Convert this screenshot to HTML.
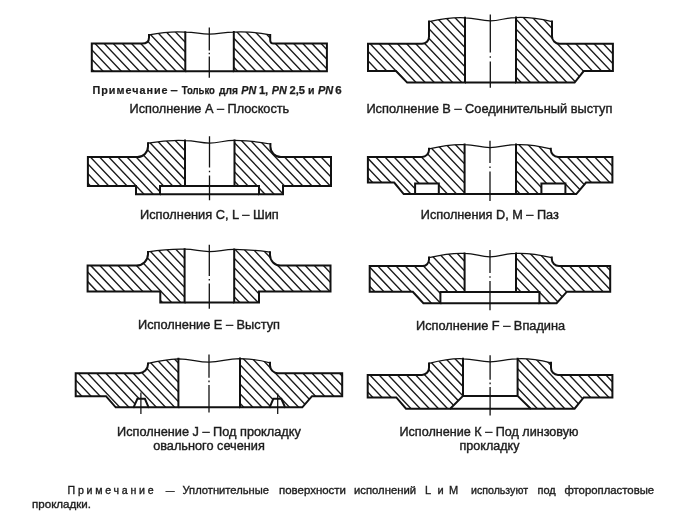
<!DOCTYPE html>
<html><head><meta charset="utf-8"><title>Flange facings</title>
<style>
html,body{margin:0;padding:0;background:#fff;}
body{width:700px;height:517px;overflow:hidden;font-family:"Liberation Sans",sans-serif;}
svg{filter:blur(0.6px);}
</style></head><body>
<svg width="700" height="517" viewBox="0 0 700 517" style="display:block" font-family="'Liberation Sans', sans-serif" fill="#222">
<defs><clipPath id="c1"><path d="M149,34.9Q170,30.9 185.3,32.2V71.3H91.8V43.6H142Q149,43.6 149,37.5V34.9Z"/></clipPath><clipPath id="c2"><path d="M233.8,32.1Q253,31.3 270.2,34.9V40Q270.2,43.6 273.7,43.6H326.9V71.3H233.8V32.1Z"/></clipPath><clipPath id="c3"><path d="M429,21.6Q450,17 465,17.8V82.6H407.2L396,71.1H368V43.8H422A7,7 0 0 0 429,36.6V21.6Z"/></clipPath><clipPath id="c4"><path d="M516,17.6Q531,16.8 552,21.6V36.1A7.5,7.5 0 0 0 559.5,43.8H612.9V71.1H583.7L574.6,82.6H516V17.6Z"/></clipPath><clipPath id="c5"><path d="M148,143.2Q168,139.8 185,140.6V186.0H160V194.3H136V186H87.9V157.1H137.5A10.5,10.5 0 0 0 148,146.6V143.2Z"/></clipPath><clipPath id="c6"><path d="M234.5,140.4Q254,140.6 270.4,144V146.6A10.5,10.5 0 0 0 280.9,157.1H331V186H283V194.3H259V186.0H234.5V140.4Z"/></clipPath><clipPath id="c7"><path d="M429,148.8Q450,143.9 464.6,144.6V194.1H438.8V183.5H415.1V194.1H403.7L394.2,182.5H367.9V156.9H422A7,7 0 0 0 429,149.9V148.8Z"/></clipPath><clipPath id="c8"><path d="M516,144.6Q531,143.9 550.8,148.8V149.5A7.4,7.4 0 0 0 558.2,156.9H612.4V182.5H586L576.3,194.1H565.4V183.5H541.4V194.1H516V144.6Z"/></clipPath><clipPath id="c9"><path d="M148,251.9Q168,248.8 184.6,249.2V302.5H160.3V291.5H87.6V265.6H136.5A11.5,11.5 0 0 0 148,254.1V251.9Z"/></clipPath><clipPath id="c10"><path d="M234.2,249.4Q252,249.6 270,252.2V255.1A10.5,10.5 0 0 0 280.5,265.6H330.5V291.5H259V302.5H234.2V249.4Z"/></clipPath><clipPath id="c11"><path d="M429,257.6Q450,252.7 464.6,253.4V292.0H440.4V303.2H423.4L412.8,291.7H369.7V266.1H422.5A6.5,6.5 0 0 0 429,259.6V257.6Z"/></clipPath><clipPath id="c12"><path d="M516,253.4Q531,252.7 551.8,257.6V258.9A7.2,7.2 0 0 0 559,266.1H610.2V291.7H566.9L556.6,303.2H539.4V292.0H516V253.4Z"/></clipPath><clipPath id="c13"><path d="M148,363.4Q165,359.4 178.4,358.8V407.3H148.6L144.9,398.8H137.4L133.6,407.3H115.7L106,396.2H75.7V373.2H139A9,9 0 0 0 148,364.2V363.4Z"/></clipPath><clipPath id="c14"><path d="M240,358.6Q256,359 270,362.8V365.2A8,8 0 0 0 278,373.2H342.2V396.2H312L302.3,407.3H285.1L281.3,398.8H273.3L269.7,407.3H240V358.6Z"/></clipPath><clipPath id="c15"><path d="M429,363.4Q450,358.1 463,358.8V395.9L450.2,408.7H406L396.3,397.4H367.7V374.9H422A7,7 0 0 0 429,367.7V363.4Z"/></clipPath><clipPath id="c16"><path d="M517.6,358.8Q531,358.1 551,362.8V367.7A7,7 0 0 0 558,374.9H612.4V397.4H583.7L574.6,408.7H530.7L517.6,395.9V358.8Z"/></clipPath></defs>
<g id="art">
<path d="M43.70,28.00L88.63,75.30M52.84,28.00L97.77,75.30M61.98,28.00L106.91,75.30M71.12,28.00L116.05,75.30M80.26,28.00L125.19,75.30M89.40,28.00L134.33,75.30M98.54,28.00L143.47,75.30M107.68,28.00L152.62,75.30M116.82,28.00L161.75,75.30M125.96,28.00L170.89,75.30M135.10,28.00L180.03,75.30M144.24,28.00L189.18,75.30M153.38,28.00L198.31,75.30M162.52,28.00L207.46,75.30M171.66,28.00L216.59,75.30M180.80,28.00L225.73,75.30M189.94,28.00L234.88,75.30" clip-path="url(#c1)" stroke="#1c1c1c" stroke-width="1.4" fill="none"/>
<path d="M185.3,32.2V71.3H91.8V43.6H142Q149,43.6 149,37.5V34.9" stroke="#111" stroke-width="2.0" fill="none" stroke-linejoin="miter" stroke-linecap="square"/>
<path d="M187.52,28.00L232.46,75.30M196.66,28.00L241.59,75.30M205.80,28.00L250.73,75.30M214.94,28.00L259.88,75.30M224.08,28.00L269.01,75.30M233.22,28.00L278.15,75.30M242.36,28.00L287.29,75.30M251.50,28.00L296.44,75.30M260.64,28.00L305.58,75.30M269.78,28.00L314.72,75.30M278.92,28.00L323.86,75.30M288.06,28.00L333.00,75.30M297.20,28.00L342.13,75.30M306.34,28.00L351.27,75.30M315.48,28.00L360.41,75.30M324.62,28.00L369.55,75.30M333.76,28.00L378.70,75.30" clip-path="url(#c2)" stroke="#1c1c1c" stroke-width="1.4" fill="none"/>
<path d="M270.2,34.9V40Q270.2,43.6 273.7,43.6H326.9V71.3H233.8V32.1" stroke="#111" stroke-width="2.0" fill="none" stroke-linejoin="miter" stroke-linecap="square"/>
<path d="M185.3,71.3H233.8" stroke="#111" stroke-width="2.0" fill="none" />
<path d="M149,34.9Q170,30.9 185.3,32.2C196.0,32.2 199.6,34.0 209.3,34.0S223.1,32.1 233.8,32.1Q253,31.3 270.2,34.9" stroke="#111" stroke-width="1.25" fill="none" />
<path d="M209.3,27.5V50.5M209.3,52.7V54.3M209.3,56.5V77.8" stroke="#111" stroke-width="1.3" fill="none"/>
<path d="M295.18,13.00L365.10,86.60M304.32,13.00L374.24,86.60M313.46,13.00L383.38,86.60M322.60,13.00L392.52,86.60M331.74,13.00L401.66,86.60M340.88,13.00L410.80,86.60M350.02,13.00L419.94,86.60M359.16,13.00L429.08,86.60M368.30,13.00L438.22,86.60M377.44,13.00L447.36,86.60M386.58,13.00L456.50,86.60M395.72,13.00L465.64,86.60M404.86,13.00L474.78,86.60M414.00,13.00L483.92,86.60M423.14,13.00L493.06,86.60M432.28,13.00L502.20,86.60M441.42,13.00L511.34,86.60M450.56,13.00L520.48,86.60M459.70,13.00L529.62,86.60M468.84,13.00L538.76,86.60" clip-path="url(#c3)" stroke="#1c1c1c" stroke-width="1.4" fill="none"/>
<path d="M465,17.8V82.6H407.2L396,71.1H368V43.8H422A7,7 0 0 0 429,36.6V21.6" stroke="#111" stroke-width="2.0" fill="none" stroke-linejoin="miter" stroke-linecap="square"/>
<path d="M446.01,13.00L515.93,86.60M455.15,13.00L525.07,86.60M464.29,13.00L534.21,86.60M473.43,13.00L543.35,86.60M482.57,13.00L552.49,86.60M491.71,13.00L561.63,86.60M500.85,13.00L570.77,86.60M509.99,13.00L579.91,86.60M519.13,13.00L589.05,86.60M528.27,13.00L598.19,86.60M537.41,13.00L607.33,86.60M546.55,13.00L616.47,86.60M555.69,13.00L625.61,86.60M564.83,13.00L634.75,86.60M573.97,13.00L643.89,86.60M583.11,13.00L653.03,86.60M592.25,13.00L662.17,86.60M601.39,13.00L671.31,86.60M610.53,13.00L680.45,86.60M619.67,13.00L689.59,86.60" clip-path="url(#c4)" stroke="#1c1c1c" stroke-width="1.4" fill="none"/>
<path d="M552,21.6V36.1A7.5,7.5 0 0 0 559.5,43.8H612.9V71.1H583.7L574.6,82.6H516V17.6" stroke="#111" stroke-width="2.0" fill="none" stroke-linejoin="miter" stroke-linecap="square"/>
<path d="M465,82.6H516" stroke="#111" stroke-width="2.0" fill="none" />
<path d="M429,21.6Q450,17 465,17.8C476.2,17.8 480.1,20.8 490.3,20.8S504.8,17.6 516,17.6Q531,16.8 552,21.6" stroke="#111" stroke-width="1.25" fill="none" />
<path d="M490.3,14.6V52.5M490.3,56.2V57.8M490.3,61.5V87.8" stroke="#111" stroke-width="1.3" fill="none"/>
<path d="M23.80,135.00L83.93,198.30M32.94,135.00L93.07,198.30M42.08,135.00L102.21,198.30M51.22,135.00L111.35,198.30M60.36,135.00L120.49,198.30M69.50,135.00L129.63,198.30M78.64,135.00L138.77,198.30M87.78,135.00L147.91,198.30M96.92,135.00L157.06,198.30M106.06,135.00L166.19,198.30M115.20,135.00L175.33,198.30M124.34,135.00L184.47,198.30M133.48,135.00L193.62,198.30M142.62,135.00L202.75,198.30M151.76,135.00L211.89,198.30M160.90,135.00L221.03,198.30M170.04,135.00L230.18,198.30M179.18,135.00L239.31,198.30M188.32,135.00L248.45,198.30" clip-path="url(#c5)" stroke="#1c1c1c" stroke-width="1.4" fill="none"/>
<path d="M185,140.6V186.0H160V194.3H136V186H87.9V157.1H137.5A10.5,10.5 0 0 0 148,146.6V143.2" stroke="#111" stroke-width="2.0" fill="none" stroke-linejoin="miter" stroke-linecap="square"/>
<path d="M172.20,135.00L232.33,198.30M181.34,135.00L241.47,198.30M190.48,135.00L250.61,198.30M199.62,135.00L259.75,198.30M208.76,135.00L268.89,198.30M217.90,135.00L278.03,198.30M227.04,135.00L287.17,198.30M236.18,135.00L296.31,198.30M245.32,135.00L305.45,198.30M254.46,135.00L314.59,198.30M263.60,135.00L323.74,198.30M272.74,135.00L332.88,198.30M281.88,135.00L342.01,198.30M291.02,135.00L351.15,198.30M300.16,135.00L360.29,198.30M309.30,135.00L369.44,198.30M318.44,135.00L378.57,198.30M327.58,135.00L387.71,198.30M336.72,135.00L396.86,198.30" clip-path="url(#c6)" stroke="#1c1c1c" stroke-width="1.4" fill="none"/>
<path d="M270.4,144V146.6A10.5,10.5 0 0 0 280.9,157.1H331V186H283V194.3H259V186.0H234.5V140.4" stroke="#111" stroke-width="2.0" fill="none" stroke-linejoin="miter" stroke-linecap="square"/>
<path d="M185,186.0H234.5M160,194.3H259" stroke="#111" stroke-width="2.0" fill="none" />
<path d="M148,143.2Q168,139.8 185,140.6C195.9,140.6 199.6,143 209.5,143S223.6,140.4 234.5,140.4Q254,140.6 270.4,144" stroke="#111" stroke-width="1.25" fill="none" />
<path d="M209.5,136.2V167.5M209.5,170.7V172.3M209.5,175.5V200.2" stroke="#111" stroke-width="1.3" fill="none"/>
<path d="M304.78,140.00L359.98,198.10M313.92,140.00L369.12,198.10M323.06,140.00L378.25,198.10M332.20,140.00L387.39,198.10M341.34,140.00L396.53,198.10M350.48,140.00L405.68,198.10M359.62,140.00L414.81,198.10M368.76,140.00L423.95,198.10M377.90,140.00L433.10,198.10M387.04,140.00L442.24,198.10M396.18,140.00L451.38,198.10M405.32,140.00L460.51,198.10M414.46,140.00L469.66,198.10M423.60,140.00L478.80,198.10M432.74,140.00L487.94,198.10M441.88,140.00L497.07,198.10M451.02,140.00L506.21,198.10M460.16,140.00L515.36,198.10M469.30,140.00L524.50,198.10" clip-path="url(#c7)" stroke="#1c1c1c" stroke-width="1.4" fill="none"/>
<path d="M464.6,144.6V194.1H438.8V183.5H415.1V194.1H403.7L394.2,182.5H367.9V156.9H422A7,7 0 0 0 429,149.9V148.8" stroke="#111" stroke-width="2.0" fill="none" stroke-linejoin="miter" stroke-linecap="square"/>
<path d="M459.66,140.00L514.86,198.10M468.80,140.00L523.99,198.10M477.94,140.00L533.13,198.10M487.08,140.00L542.27,198.10M496.22,140.00L551.41,198.10M505.36,140.00L560.56,198.10M514.50,140.00L569.69,198.10M523.64,140.00L578.84,198.10M532.78,140.00L587.97,198.10M541.92,140.00L597.12,198.10M551.06,140.00L606.25,198.10M560.20,140.00L615.39,198.10M569.34,140.00L624.53,198.10M578.48,140.00L633.67,198.10M587.62,140.00L642.82,198.10M596.76,140.00L651.95,198.10M605.90,140.00L661.10,198.10M615.04,140.00L670.23,198.10" clip-path="url(#c8)" stroke="#1c1c1c" stroke-width="1.4" fill="none"/>
<path d="M550.8,148.8V149.5A7.4,7.4 0 0 0 558.2,156.9H612.4V182.5H586L576.3,194.1H565.4V183.5H541.4V194.1H516V144.6" stroke="#111" stroke-width="2.0" fill="none" stroke-linejoin="miter" stroke-linecap="square"/>
<path d="M415.1,194.1H438.8M541.4,194.1H565.4M464.6,194.1H516" stroke="#111" stroke-width="2.0" fill="none" />
<path d="M429,148.8Q450,143.9 464.6,144.6C475.9,144.6 479.7,147.6 490,147.6S504.7,144.6 516,144.6Q531,143.9 550.8,148.8" stroke="#111" stroke-width="1.25" fill="none" />
<path d="M490,140.7V163M490,166.45V168.05M490,171.5V201" stroke="#111" stroke-width="1.3" fill="none"/>
<path d="M24.56,244.00L83.94,306.50M33.70,244.00L93.07,306.50M42.84,244.00L102.22,306.50M51.98,244.00L111.36,306.50M61.12,244.00L120.50,306.50M70.26,244.00L129.63,306.50M79.40,244.00L138.78,306.50M88.54,244.00L147.92,306.50M97.68,244.00L157.06,306.50M106.82,244.00L166.19,306.50M115.96,244.00L175.34,306.50M125.10,244.00L184.48,306.50M134.24,244.00L193.62,306.50M143.38,244.00L202.75,306.50M152.52,244.00L211.90,306.50M161.66,244.00L221.04,306.50M170.80,244.00L230.18,306.50M179.94,244.00L239.31,306.50M189.08,244.00L248.46,306.50" clip-path="url(#c9)" stroke="#1c1c1c" stroke-width="1.4" fill="none"/>
<path d="M184.6,249.2V302.5H160.3V291.5H87.6V265.6H136.5A11.5,11.5 0 0 0 148,254.1V251.9" stroke="#111" stroke-width="2.0" fill="none" stroke-linejoin="miter" stroke-linecap="square"/>
<path d="M175.08,244.00L234.46,306.50M184.22,244.00L243.59,306.50M193.36,244.00L252.74,306.50M202.50,244.00L261.88,306.50M211.64,244.00L271.01,306.50M220.78,244.00L280.16,306.50M229.92,244.00L289.30,306.50M239.06,244.00L298.44,306.50M248.20,244.00L307.57,306.50M257.34,244.00L316.72,306.50M266.48,244.00L325.86,306.50M275.62,244.00L335.00,306.50M284.76,244.00L344.13,306.50M293.90,244.00L353.28,306.50M303.04,244.00L362.42,306.50M312.18,244.00L371.56,306.50M321.32,244.00L380.70,306.50M330.46,244.00L389.84,306.50" clip-path="url(#c10)" stroke="#1c1c1c" stroke-width="1.4" fill="none"/>
<path d="M270,252.2V255.1A10.5,10.5 0 0 0 280.5,265.6H330.5V291.5H259V302.5H234.2V249.4" stroke="#111" stroke-width="2.0" fill="none" stroke-linejoin="miter" stroke-linecap="square"/>
<path d="M184.6,302.5H234.2" stroke="#111" stroke-width="2.0" fill="none" />
<path d="M148,251.9Q168,248.8 184.6,249.2C195.5,249.4 199.4,251.6 209.3,251.6S223.3,249.4 234.2,249.4Q252,249.6 270,252.2" stroke="#111" stroke-width="1.25" fill="none" />
<path d="M209.3,244.7V276M209.3,278.95V280.55M209.3,283.5V308.7" stroke="#111" stroke-width="1.3" fill="none"/>
<path d="M306.78,249.00L362.07,307.20M315.92,249.00L371.21,307.20M325.06,249.00L380.35,307.20M334.20,249.00L389.49,307.20M343.34,249.00L398.63,307.20M352.48,249.00L407.77,307.20M361.62,249.00L416.91,307.20M370.76,249.00L426.05,307.20M379.90,249.00L435.19,307.20M389.04,249.00L444.33,307.20M398.18,249.00L453.47,307.20M407.32,249.00L462.61,307.20M416.46,249.00L471.75,307.20M425.60,249.00L480.89,307.20M434.74,249.00L490.03,307.20M443.88,249.00L499.17,307.20M453.02,249.00L508.31,307.20M462.16,249.00L517.45,307.20M471.30,249.00L526.59,307.20" clip-path="url(#c11)" stroke="#1c1c1c" stroke-width="1.4" fill="none"/>
<path d="M464.6,253.4V292.0H440.4V303.2H423.4L412.8,291.7H369.7V266.1H422.5A6.5,6.5 0 0 0 429,259.6V257.6" stroke="#111" stroke-width="2.0" fill="none" stroke-linejoin="miter" stroke-linecap="square"/>
<path d="M452.77,249.00L508.06,307.20M461.91,249.00L517.20,307.20M471.05,249.00L526.34,307.20M480.19,249.00L535.48,307.20M489.33,249.00L544.62,307.20M498.47,249.00L553.76,307.20M507.61,249.00L562.90,307.20M516.75,249.00L572.04,307.20M525.89,249.00L581.18,307.20M535.03,249.00L590.32,307.20M544.17,249.00L599.46,307.20M553.31,249.00L608.60,307.20M562.45,249.00L617.74,307.20M571.59,249.00L626.88,307.20M580.73,249.00L636.02,307.20M589.87,249.00L645.16,307.20M599.01,249.00L654.30,307.20M608.15,249.00L663.44,307.20M617.29,249.00L672.58,307.20" clip-path="url(#c12)" stroke="#1c1c1c" stroke-width="1.4" fill="none"/>
<path d="M551.8,257.6V258.9A7.2,7.2 0 0 0 559,266.1H610.2V291.7H566.9L556.6,303.2H539.4V292.0H516V253.4" stroke="#111" stroke-width="2.0" fill="none" stroke-linejoin="miter" stroke-linecap="square"/>
<path d="M464.6,292.0H516M440.4,303.2H539.4" stroke="#111" stroke-width="2.0" fill="none" />
<path d="M429,257.6Q450,252.7 464.6,253.4C475.9,253.4 479.7,256.8 490,256.8S504.7,253.4 516,253.4Q531,252.7 551.8,257.6" stroke="#111" stroke-width="1.25" fill="none" />
<path d="M490,249.9V273M490,276.2V277.8M490,281V310.2" stroke="#111" stroke-width="1.3" fill="none"/>
<path d="M14.38,354.00L68.81,411.30M23.52,354.00L77.95,411.30M32.66,354.00L87.10,411.30M41.80,354.00L96.24,411.30M50.94,354.00L105.38,411.30M60.08,354.00L114.51,411.30M69.22,354.00L123.65,411.30M78.36,354.00L132.80,411.30M87.50,354.00L141.94,411.30M96.64,354.00L151.07,411.30M105.78,354.00L160.22,411.30M114.92,354.00L169.36,411.30M124.06,354.00L178.50,411.30M133.20,354.00L187.63,411.30M142.34,354.00L196.78,411.30M151.48,354.00L205.92,411.30M160.62,354.00L215.06,411.30M169.76,354.00L224.19,411.30M178.90,354.00L233.34,411.30" clip-path="url(#c13)" stroke="#1c1c1c" stroke-width="1.4" fill="none"/>
<path d="M178.4,358.8V407.3H148.6L144.9,398.8H137.4L133.6,407.3H115.7L106,396.2H75.7V373.2H139A9,9 0 0 0 148,364.2V363.4" stroke="#111" stroke-width="2.0" fill="none" stroke-linejoin="miter" stroke-linecap="square"/>
<path d="M184.06,354.00L238.50,411.30M193.20,354.00L247.63,411.30M202.34,354.00L256.77,411.30M211.48,354.00L265.92,411.30M220.62,354.00L275.06,411.30M229.76,354.00L284.19,411.30M238.90,354.00L293.34,411.30M248.04,354.00L302.48,411.30M257.18,354.00L311.62,411.30M266.32,354.00L320.75,411.30M275.46,354.00L329.89,411.30M284.60,354.00L339.04,411.30M293.74,354.00L348.18,411.30M302.88,354.00L357.31,411.30M312.02,354.00L366.46,411.30M321.16,354.00L375.60,411.30M330.30,354.00L384.74,411.30M339.44,354.00L393.88,411.30M348.58,354.00L403.01,411.30" clip-path="url(#c14)" stroke="#1c1c1c" stroke-width="1.4" fill="none"/>
<path d="M270,362.8V365.2A8,8 0 0 0 278,373.2H342.2V396.2H312L302.3,407.3H285.1L281.3,398.8H273.3L269.7,407.3H240V358.6" stroke="#111" stroke-width="2.0" fill="none" stroke-linejoin="miter" stroke-linecap="square"/>
<path d="M133.6,407.3H148.6M269.7,407.3H285.1M178.4,407.3H240" stroke="#111" stroke-width="2.0" fill="none" />
<path d="M148,363.4Q165,359.4 178.4,358.8C192.0,358.8 196.7,362.1 209,362.1S226.4,358.6 240,358.6Q256,359 270,362.8" stroke="#111" stroke-width="1.25" fill="none" />
<path d="M209,354.4V377.7M209,380.55V382.15000000000003M209,385V412.5" stroke="#111" stroke-width="1.3" fill="none"/>
<path d="M140.9,392.5V414M277.7,393.5V414" stroke="#111" stroke-width="1.25" fill="none" />
<path d="M304.28,354.00L360.05,412.70M313.42,354.00L369.19,412.70M322.56,354.00L378.32,412.70M331.70,354.00L387.46,412.70M340.84,354.00L396.61,412.70M349.98,354.00L405.75,412.70M359.12,354.00L414.88,412.70M368.26,354.00L424.02,412.70M377.40,354.00L433.17,412.70M386.54,354.00L442.31,412.70M395.68,354.00L451.44,412.70M404.82,354.00L460.59,412.70M413.96,354.00L469.73,412.70M423.10,354.00L478.87,412.70M432.24,354.00L488.00,412.70M441.38,354.00L497.14,412.70M450.52,354.00L506.28,412.70M459.66,354.00L515.42,412.70M468.80,354.00L524.57,412.70" clip-path="url(#c15)" stroke="#1c1c1c" stroke-width="1.4" fill="none"/>
<path d="M463,358.8V395.9L450.2,408.7H406L396.3,397.4H367.7V374.9H422A7,7 0 0 0 429,367.7V363.4" stroke="#111" stroke-width="2.0" fill="none" stroke-linejoin="miter" stroke-linecap="square"/>
<path d="M457.96,354.00L513.73,412.70M467.10,354.00L522.87,412.70M476.24,354.00L532.00,412.70M485.38,354.00L541.14,412.70M494.52,354.00L550.28,412.70M503.66,354.00L559.42,412.70M512.80,354.00L568.57,412.70M521.94,354.00L577.70,412.70M531.08,354.00L586.85,412.70M540.22,354.00L595.99,412.70M549.36,354.00L605.12,412.70M558.50,354.00L614.26,412.70M567.64,354.00L623.40,412.70M576.78,354.00L632.54,412.70M585.92,354.00L641.68,412.70M595.06,354.00L650.83,412.70M604.20,354.00L659.96,412.70M613.34,354.00L669.11,412.70" clip-path="url(#c16)" stroke="#1c1c1c" stroke-width="1.4" fill="none"/>
<path d="M551,362.8V367.7A7,7 0 0 0 558,374.9H612.4V397.4H583.7L574.6,408.7H530.7L517.6,395.9V358.8" stroke="#111" stroke-width="2.0" fill="none" stroke-linejoin="miter" stroke-linecap="square"/>
<path d="M463,395.9H517.6M450.2,408.7H530.7" stroke="#111" stroke-width="2.0" fill="none" />
<path d="M429,363.4Q450,358.1 463,358.8C475.0,358.8 479.2,361.8 490.1,361.8S505.6,358.8 517.6,358.8Q531,358.1 551,362.8" stroke="#111" stroke-width="1.25" fill="none" />
<path d="M490.1,355.2V379.8M490.1,382.59999999999997V384.2M490.1,387V415.4" stroke="#111" stroke-width="1.3" fill="none"/>
<text x="92.4" y="93.6" font-size="10.8" text-anchor="start" textLength="75.2" lengthAdjust="spacing" font-weight="bold" stroke="#1c1c1c" stroke-width="0.2" fill="#1c1c1c">Примечание</text>
<text x="170.5" y="93.6" font-size="10.8" text-anchor="start" textLength="7.2" lengthAdjust="spacingAndGlyphs" font-weight="bold" stroke="#1c1c1c" stroke-width="0.25" fill="#1c1c1c">–</text>
<text x="181.7" y="93.6" font-size="10.8" text-anchor="start" textLength="33.2" lengthAdjust="spacingAndGlyphs" font-weight="bold" stroke="#1c1c1c" stroke-width="0.25" fill="#1c1c1c">Только</text>
<text x="218.9" y="93.6" font-size="10.8" text-anchor="start" textLength="19.0" lengthAdjust="spacingAndGlyphs" font-weight="bold" stroke="#1c1c1c" stroke-width="0.25" fill="#1c1c1c">для</text>
<text x="241.3" y="93.6" font-size="10.8" text-anchor="start" textLength="14.9" lengthAdjust="spacingAndGlyphs" font-weight="bold" font-style="italic" stroke="#1c1c1c" stroke-width="0.25" fill="#1c1c1c">PN</text>
<text x="258.9" y="93.6" font-size="10.8" text-anchor="start" textLength="9.3" lengthAdjust="spacingAndGlyphs" font-weight="bold" stroke="#1c1c1c" stroke-width="0.25" fill="#1c1c1c">1,</text>
<text x="271.8" y="93.6" font-size="10.8" text-anchor="start" textLength="15.0" lengthAdjust="spacingAndGlyphs" font-weight="bold" font-style="italic" stroke="#1c1c1c" stroke-width="0.25" fill="#1c1c1c">PN</text>
<text x="289.5" y="93.6" font-size="10.8" text-anchor="start" textLength="15.5" lengthAdjust="spacingAndGlyphs" font-weight="bold" stroke="#1c1c1c" stroke-width="0.25" fill="#1c1c1c">2,5</text>
<text x="308.0" y="93.6" font-size="10.8" text-anchor="start" textLength="6.5" lengthAdjust="spacingAndGlyphs" font-weight="bold" stroke="#1c1c1c" stroke-width="0.25" fill="#1c1c1c">и</text>
<text x="318.0" y="93.6" font-size="10.8" text-anchor="start" textLength="15.3" lengthAdjust="spacingAndGlyphs" font-weight="bold" font-style="italic" stroke="#1c1c1c" stroke-width="0.25" fill="#1c1c1c">PN</text>
<text x="335.3" y="93.6" font-size="10.8" text-anchor="start" textLength="6.4" lengthAdjust="spacingAndGlyphs" font-weight="bold" stroke="#1c1c1c" stroke-width="0.25" fill="#1c1c1c">6</text>
<text x="129.6" y="112.5" font-size="12.5" text-anchor="start" textLength="159.6" lengthAdjust="spacingAndGlyphs"  stroke="#1c1c1c" stroke-width="0.4" fill="#1c1c1c">Исполнение А – Плоскость</text>
<text x="366.4" y="112.5" font-size="12.5" text-anchor="start" textLength="246" lengthAdjust="spacingAndGlyphs"  stroke="#1c1c1c" stroke-width="0.4" fill="#1c1c1c">Исполнение В – Соединительный выступ</text>
<text x="140" y="219" font-size="12.5" text-anchor="start" textLength="138.8" lengthAdjust="spacingAndGlyphs"  stroke="#1c1c1c" stroke-width="0.4" fill="#1c1c1c">Исполнения С, L – Шип</text>
<text x="420.8" y="219" font-size="12.5" text-anchor="start" textLength="138" lengthAdjust="spacingAndGlyphs"  stroke="#1c1c1c" stroke-width="0.4" fill="#1c1c1c">Исполнения D, M – Паз</text>
<text x="138" y="329" font-size="12.5" text-anchor="start" textLength="142" lengthAdjust="spacingAndGlyphs"  stroke="#1c1c1c" stroke-width="0.4" fill="#1c1c1c">Исполнение Е – Выступ</text>
<text x="416" y="329.6" font-size="12.5" text-anchor="start" textLength="149.2" lengthAdjust="spacingAndGlyphs"  stroke="#1c1c1c" stroke-width="0.4" fill="#1c1c1c">Исполнение F – Впадина</text>
<text x="117" y="435.5" font-size="12.5" text-anchor="start" textLength="183.8" lengthAdjust="spacingAndGlyphs"  stroke="#1c1c1c" stroke-width="0.4" fill="#1c1c1c">Исполнение J – Под прокладку</text>
<text x="153.2" y="450" font-size="12.5" text-anchor="start" textLength="111.6" lengthAdjust="spacingAndGlyphs"  stroke="#1c1c1c" stroke-width="0.4" fill="#1c1c1c">овального сечения</text>
<text x="399.5" y="435.5" font-size="12.5" text-anchor="start" textLength="179" lengthAdjust="spacingAndGlyphs"  stroke="#1c1c1c" stroke-width="0.4" fill="#1c1c1c">Исполнение К – Под линзовую</text>
<text x="459.5" y="450" font-size="12.5" text-anchor="start" textLength="60" lengthAdjust="spacingAndGlyphs"  stroke="#1c1c1c" stroke-width="0.4" fill="#1c1c1c">прокладку</text>
<text x="67.5" y="494.35" font-size="10.6" text-anchor="start" textLength="86.2" lengthAdjust="spacing"  stroke="#1c1c1c" stroke-width="0.35" fill="#1c1c1c">Примечание</text>
<text x="165.8" y="494.35" font-size="10.6" text-anchor="start" textLength="8.8" lengthAdjust="spacingAndGlyphs" stroke="#1c1c1c" stroke-width="0.35" fill="#1c1c1c">—</text>
<text x="182.5" y="494.35" font-size="11" text-anchor="start" textLength="86.5" lengthAdjust="spacingAndGlyphs"  stroke="#1c1c1c" stroke-width="0.35" fill="#1c1c1c">Уплотнительные</text>
<text x="279" y="494.35" font-size="11" text-anchor="start" textLength="67" lengthAdjust="spacingAndGlyphs"  stroke="#1c1c1c" stroke-width="0.35" fill="#1c1c1c">поверхности</text>
<text x="354" y="494.35" font-size="11" text-anchor="start" textLength="62" lengthAdjust="spacingAndGlyphs"  stroke="#1c1c1c" stroke-width="0.35" fill="#1c1c1c">исполнений</text>
<text x="425" y="494.35" font-size="11" text-anchor="start"  stroke="#1c1c1c" stroke-width="0.35" fill="#1c1c1c">L</text>
<text x="437.5" y="494.35" font-size="11" text-anchor="start"  stroke="#1c1c1c" stroke-width="0.35" fill="#1c1c1c">и</text>
<text x="449" y="494.35" font-size="11" text-anchor="start"  stroke="#1c1c1c" stroke-width="0.35" fill="#1c1c1c">M</text>
<text x="471" y="494.35" font-size="11" text-anchor="start" textLength="57" lengthAdjust="spacingAndGlyphs"  stroke="#1c1c1c" stroke-width="0.35" fill="#1c1c1c">используют</text>
<text x="537.5" y="494.35" font-size="11" text-anchor="start" textLength="18.2" lengthAdjust="spacingAndGlyphs"  stroke="#1c1c1c" stroke-width="0.35" fill="#1c1c1c">под</text>
<text x="564.4" y="494.35" font-size="11" text-anchor="start" textLength="89.8" lengthAdjust="spacingAndGlyphs"  stroke="#1c1c1c" stroke-width="0.35" fill="#1c1c1c">фторопластовые</text>
<text x="32" y="507.9" font-size="11" text-anchor="start" textLength="59" lengthAdjust="spacingAndGlyphs"  stroke="#1c1c1c" stroke-width="0.35" fill="#1c1c1c">прокладки.</text>
</g>
</svg>
</body></html>
